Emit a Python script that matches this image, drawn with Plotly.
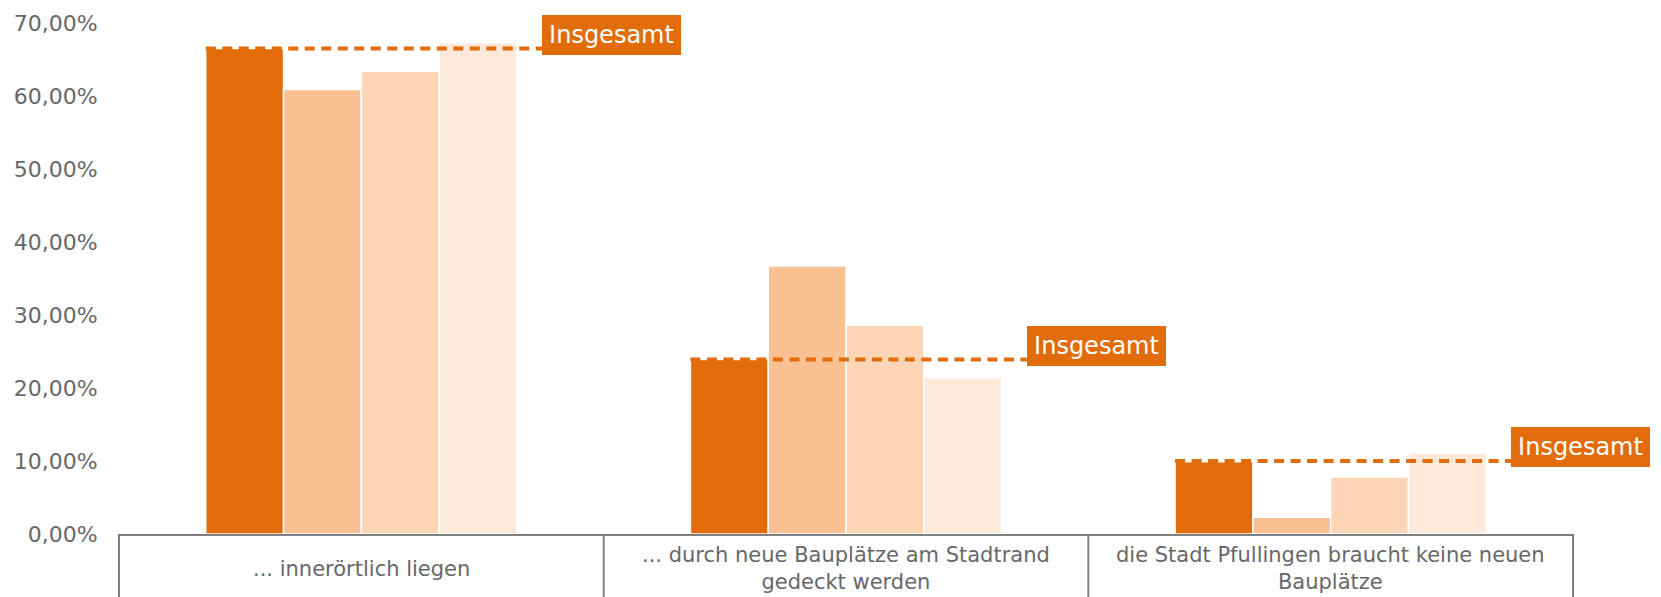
import plotly.graph_objects as go

categories = ["... innerörtlich liegen",
              "... durch neue Bauplätze am Stadtrand<br>gedeckt werden",
              "die Stadt Pfullingen braucht keine neuen<br>Bauplätze"]
series_names = ["Insgesamt", "Gruppe 1", "Gruppe 2", "Gruppe 3"]
values_s1 = [66.5, 23.9, 9.9]
values_s2 = [60.9, 36.7, 2.3]
values_s3 = [63.4, 28.6, 7.8]
values_s4 = [67.3, 21.4, 11.1]
insgesamt = [66.5, 23.9, 10.0]
y_ticks = [0, 10, 20, 30, 40, 50, 60, 70]

colors = ["#E36C0A", "#F9C091", "#FBD5B5", "#FDE9D9"]
gray = "#686868"
font_fam = "DejaVu Sans"
x_pos = list(range(len(categories)))

fig = go.Figure()
for name, vals, col in zip(series_names, [values_s1, values_s2, values_s3, values_s4], colors):
    fig.add_trace(go.Bar(x=x_pos, y=[v / 100 for v in vals], name=name,
                         marker=dict(color=col, line=dict(color="white", width=1.5))))

# Insgesamt reference lines + labels
for i, v in enumerate(insgesamt):
    fig.add_trace(go.Scatter(x=[i - 0.321, i + 0.373], y=[v / 100, v / 100], mode="lines",
                             line=dict(color="#E36C0A", width=4, dash="10px,6.5px"),
                             showlegend=False, hoverinfo="skip"))
    fig.add_annotation(x=i + 0.373, y=v / 100, xref="x", yref="y", text="Insgesamt",
                       showarrow=False, xanchor="left", yanchor="middle", yshift=14,
                       bgcolor="#E36C0A",
                       font=dict(color="white", size=24, family=font_fam),
                       width=131, height=32, borderpad=4, borderwidth=0)

# category labels
for i, c in enumerate(categories):
    fig.add_annotation(x=i, y=-0.068, xref="x", yref="paper", text=c, showarrow=False,
                       xanchor="center", yanchor="middle",
                       font=dict(color=gray, size=21, family=font_fam))

# category box dividers
for k in range(len(categories) + 1):
    fig.add_shape(type="line", xref="paper", yref="paper", x0=k / 3, x1=k / 3, y0=0, y1=-0.25,
                  line=dict(color="#808080", width=2))

# page body adds 8px offset, so the figure is a bit smaller than the window
fig.update_layout(
    width=1653, height=589,
    margin=dict(l=111, r=88, t=15, b=63),
    barmode="group", bargap=0.358, bargroupgap=0,
    plot_bgcolor="white", paper_bgcolor="white",
    showlegend=False, separators=",.",
    font=dict(family=font_fam, color=gray),
)
fig.update_xaxes(range=[-0.5, 2.5], showticklabels=False, showgrid=False, zeroline=False,
                 showline=True, linecolor="#808080", linewidth=2, automargin=False)
fig.update_yaxes(range=[0, 0.7], tickvals=[t / 100 for t in y_ticks], tickformat=".2%",
                 showgrid=False, zeroline=False, showline=False, automargin=False,
                 ticks="outside", ticklen=16, tickcolor="rgba(0,0,0,0)",
                 tickfont=dict(size=22, color=gray, family=font_fam))

fig.write_html("out.html")
